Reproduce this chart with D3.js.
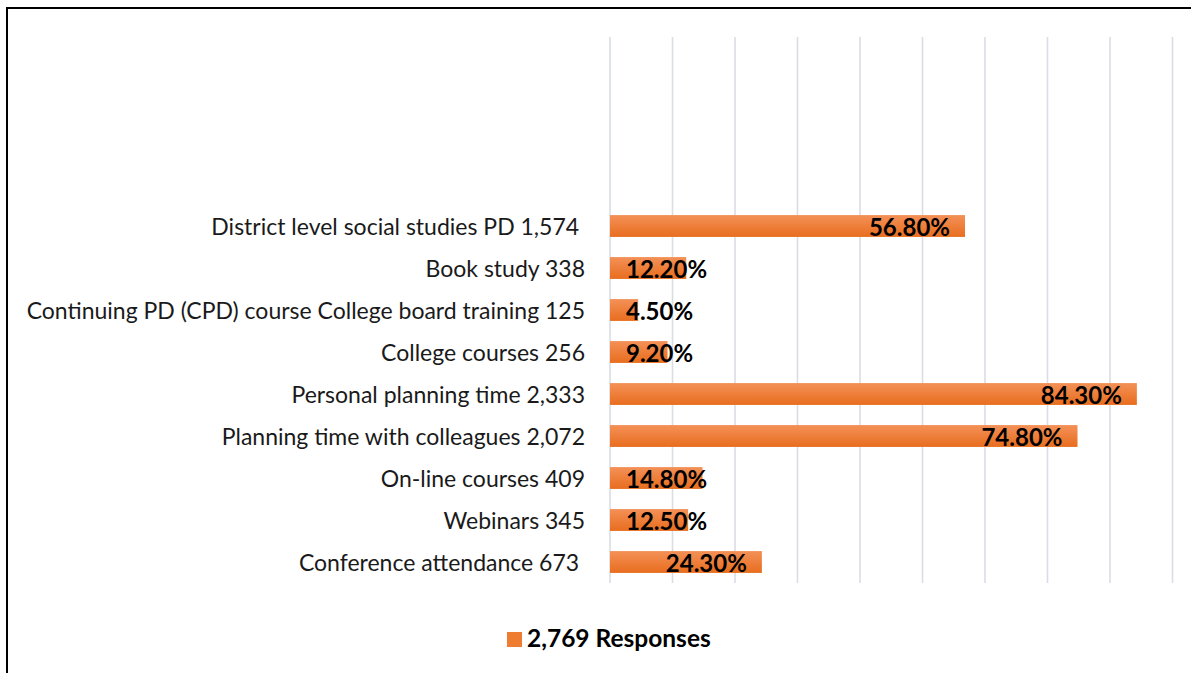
<!DOCTYPE html>
<html><head><meta charset="utf-8">
<script src="https://cdn.jsdelivr.net/npm/d3@7"></script>
<style>body{margin:0;background:#fff;} svg{display:block;}</style>
</head><body>
<script>
const categories = [
  "District level social studies PD 1,574 ",
  "Book study 338",
  "Continuing PD (CPD) course College board training 125",
  "College courses 256",
  "Personal planning time 2,333",
  "Planning time with colleagues 2,072",
  "On-line courses 409",
  "Webinars 345",
  "Conference attendance 673 "
];
const values = [0.568, 0.122, 0.045, 0.092, 0.843, 0.748, 0.148, 0.125, 0.243];
const valueLabels = ["56.80%", "12.20%", "4.50%", "9.20%", "84.30%", "74.80%", "14.80%", "12.50%", "24.30%"];
const emptySlots = ["_e1", "_e2", "_e3", "_e4"];
const xTicks = [0, 0.1, 0.2, 0.3, 0.4, 0.5, 0.6, 0.7, 0.8, 0.9];
const seriesName = "2,769 Responses";

const W = 1191, H = 673;
const svg = d3.select("body").append("svg").attr("width", W).attr("height", H);

const defs = svg.append("defs");
const grad = defs.append("linearGradient").attr("id", "barGrad")
  .attr("x1", 0).attr("y1", 0).attr("x2", 0).attr("y2", 1);
grad.append("stop").attr("offset", "0%").attr("stop-color", "#F39158");
grad.append("stop").attr("offset", "100%").attr("stop-color", "#E86D1E");

// outer frame
svg.append("rect").attr("x", 7).attr("y", 8).attr("width", 1300).attr("height", 800)
  .attr("fill", "none").attr("stroke", "#000").attr("stroke-width", 2);

const x0 = 610, plotTop = 37, plotBottom = 583;
const x = d3.scaleLinear().domain([0, 0.9]).range([x0, x0 + 562.5]);
const y = d3.scaleBand().domain(emptySlots.concat(categories)).range([plotTop, plotBottom]).paddingInner(0.48).paddingOuter(0.24);

// grid
svg.append("g").selectAll("line").data(xTicks).join("line")
  .attr("x1", d => x(d)).attr("x2", d => x(d))
  .attr("y1", plotTop).attr("y2", plotBottom)
  .attr("stroke", "#DADDE3").attr("stroke-width", 1.6);

// bars
svg.append("g").selectAll("rect").data(values).join("rect")
  .attr("x", x(0))
  .attr("y", (d, i) => y(categories[i]))
  .attr("width", d => x(d) - x(0))
  .attr("height", y.bandwidth())
  .attr("fill", "url(#barGrad)");

// category labels
svg.append("g").selectAll("text").data(categories).join("text")
  .attr("x", 585)
  .attr("y", d => y(d) + y.bandwidth() / 2 + 1)
  .attr("dy", "0.35em")
  .attr("text-anchor", "end")
  .style("white-space", "pre")
  .attr("font-family", "Lato, 'Open Sans', sans-serif")
  .attr("font-size", 23)
  .attr("fill", "#1a1a1a")
  .text(d => d);

// value labels
const vl = svg.append("g").selectAll("text").data(values).join("text")
  .attr("y", (d, i) => y(categories[i]) + y.bandwidth() / 2 + 1)
  .attr("dy", "0.36em")
  .attr("font-family", "Lato, 'Open Sans', sans-serif")
  .attr("font-weight", "bold")
  .attr("font-size", 24)
  .attr("fill", "#000")
  .text((d, i) => valueLabels[i]);
vl.each(function(d) {
  const w = this.getComputedTextLength();
  let start = x(d) - 15 - w;
  if (start < x(0) + 16) start = x(0) + 16;
  d3.select(this).attr("x", start);
});

// legend
const lg = svg.append("g");
lg.append("rect").attr("x", 507).attr("y", 632).attr("width", 15).attr("height", 15).attr("fill", "#EE7D31");
lg.append("text").attr("x", 527).attr("y", 647)
  .attr("font-family", "Lato, 'Open Sans', sans-serif")
  .attr("font-weight", "bold").attr("font-size", 24.5).attr("fill", "#000")
  .text(seriesName);
</script>
</body></html>
